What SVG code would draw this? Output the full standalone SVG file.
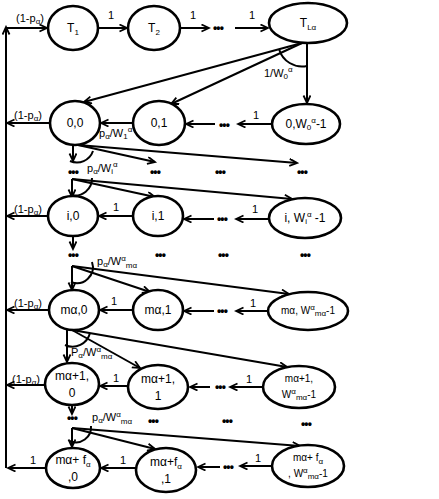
<svg xmlns="http://www.w3.org/2000/svg" width="439" height="499" viewBox="0 0 439 499">
<style>
.n ellipse{fill:#fff;stroke:#000;stroke-width:2.6}
.c line,.c path{stroke:#000;stroke-width:2;fill:none}
text{font-family:"Liberation Sans",Arial,sans-serif;font-size:12px;fill:#000;text-anchor:middle}
.l{font-size:11px}
.st{text-anchor:start}
.s{font-size:8px}
.d{font-size:12px;font-weight:bold;letter-spacing:-0.8px}
.sm{font-size:10px}
</style>
<defs>
<marker id="a" markerWidth="10" markerHeight="10" refX="8" refY="4" orient="auto" markerUnits="userSpaceOnUse">
<path d="M0.5,0.5 L8,4 L0.5,7.5" fill="none" stroke="#000" stroke-width="1.8"/>
</marker>
</defs>
<rect width="439" height="499" fill="#fff"/>
<g id="connectors" class="c">
<line x1="6" y1="468" x2="6" y2="27" marker-end="url(#a)"/>
<line x1="6" y1="28" x2="47" y2="28" marker-end="url(#a)"/>
<line x1="98" y1="28" x2="127" y2="28" marker-end="url(#a)"/>
<line x1="180" y1="28" x2="209" y2="28" marker-end="url(#a)"/>
<line x1="235" y1="28" x2="268" y2="28" marker-end="url(#a)"/>
<line x1="302" y1="43" x2="84" y2="102" marker-end="url(#a)"/>
<line x1="302" y1="43" x2="171" y2="104" marker-end="url(#a)"/>
<line x1="307" y1="44" x2="307" y2="103" marker-end="url(#a)"/>
<path d="M279,49 A24,24 0 0 0 307,66"/>
<line x1="272" y1="124" x2="238" y2="124" marker-end="url(#a)"/>
<line x1="215" y1="124" x2="186" y2="124" marker-end="url(#a)"/>
<line x1="133" y1="123" x2="101" y2="123" marker-end="url(#a)"/>
<line x1="50" y1="123" x2="7" y2="123" marker-end="url(#a)"/>
<line x1="73" y1="145" x2="73" y2="161" marker-end="url(#a)"/>
<line x1="78" y1="145" x2="155" y2="162" marker-end="url(#a)"/>
<line x1="78" y1="145" x2="297" y2="163" marker-end="url(#a)"/>
<path d="M70,161 A17,17 0 0 0 93,151"/>
<line x1="72" y1="179" x2="72" y2="197" marker-end="url(#a)"/>
<line x1="72" y1="179" x2="155" y2="197" marker-end="url(#a)"/>
<line x1="72" y1="179" x2="292" y2="199" marker-end="url(#a)"/>
<path d="M71,195 A17,17 0 0 0 92,178"/>
<line x1="269" y1="219" x2="236" y2="219" marker-end="url(#a)"/>
<line x1="214" y1="219" x2="184" y2="219" marker-end="url(#a)"/>
<line x1="133" y1="216" x2="99" y2="216" marker-end="url(#a)"/>
<line x1="48" y1="216" x2="7" y2="216" marker-end="url(#a)"/>
<line x1="73" y1="236" x2="73" y2="249" marker-end="url(#a)"/>
<line x1="72" y1="266" x2="72" y2="290" marker-end="url(#a)"/>
<line x1="72" y1="266" x2="150" y2="292" marker-end="url(#a)"/>
<line x1="72" y1="266" x2="289" y2="294" marker-end="url(#a)"/>
<path d="M71,282 A16,16 0 0 0 92,262"/>
<line x1="268" y1="311" x2="236" y2="311" marker-end="url(#a)"/>
<line x1="214" y1="311" x2="184" y2="311" marker-end="url(#a)"/>
<line x1="133" y1="310" x2="100" y2="310" marker-end="url(#a)"/>
<line x1="49" y1="310" x2="7" y2="310" marker-end="url(#a)"/>
<line x1="67" y1="330" x2="67" y2="362" marker-end="url(#a)"/>
<line x1="72" y1="330" x2="140" y2="368" marker-end="url(#a)"/>
<line x1="72" y1="330" x2="287" y2="367" marker-end="url(#a)"/>
<path d="M65,345 A18,18 0 0 0 90,333"/>
<line x1="263" y1="387" x2="230" y2="387" marker-end="url(#a)"/>
<line x1="210" y1="387" x2="190" y2="387" marker-end="url(#a)"/>
<line x1="128" y1="386" x2="100" y2="386" marker-end="url(#a)"/>
<line x1="45" y1="385" x2="7" y2="385" marker-end="url(#a)"/>
<line x1="72" y1="405" x2="72" y2="414" marker-end="url(#a)"/>
<line x1="72" y1="428" x2="72" y2="447" marker-end="url(#a)"/>
<line x1="72" y1="428" x2="155" y2="449" marker-end="url(#a)"/>
<line x1="72" y1="428" x2="300" y2="446" marker-end="url(#a)"/>
<path d="M70,441 A15,15 0 0 0 91,426"/>
<line x1="272" y1="466" x2="240" y2="466" marker-end="url(#a)"/>
<line x1="220" y1="467" x2="198" y2="467" marker-end="url(#a)"/>
<line x1="136" y1="468" x2="101" y2="468" marker-end="url(#a)"/>
<line x1="46" y1="468" x2="8" y2="468" marker-end="url(#a)"/>
</g>

<g id="labels">
<text class="l" x="30" y="22">(1-p<tspan class="s" dy="2">α</tspan><tspan dy="-2">)</tspan></text>
<text class="l" x="111" y="19">1</text>
<text class="l" x="193" y="19">1</text>
<text class="l" x="252" y="19">1</text>
<text class="l st" x="264" y="77">1/W<tspan class="s" dy="2">0</tspan><tspan class="s" dy="-7">α</tspan></text>
<text class="l" x="28" y="119">(1-p<tspan class="s" dy="2">α</tspan><tspan dy="-2">)</tspan></text>
<text class="l" x="256" y="119">1</text>
<text class="l st" x="99" y="137">p<tspan class="s" dy="2">α</tspan><tspan dy="-2">/W</tspan><tspan class="s" dy="2">1</tspan><tspan class="s" dy="-7">α</tspan></text>
<text class="l st" x="87" y="172">p<tspan class="s" dy="2">α</tspan><tspan dy="-2">/W</tspan><tspan class="s" dy="2">i</tspan><tspan class="s" dy="-7">α</tspan></text>
<text class="l" x="28" y="213">(1-p<tspan class="s" dy="2">α</tspan><tspan dy="-2">)</tspan></text>
<text class="l" x="116" y="211">1</text>
<text class="l" x="255" y="213">1</text>
<text class="l st" x="97" y="265">p<tspan class="s" dy="2">α</tspan><tspan dy="-2">/W</tspan><tspan class="s" dy="-4">α</tspan><tspan class="s" dy="7">mα</tspan></text>
<text class="l" x="28" y="307">(1-p<tspan class="s" dy="2">α</tspan><tspan dy="-2">)</tspan></text>
<text class="l" x="114" y="305">1</text>
<text class="l" x="253" y="307">1</text>
<text class="l st" x="71" y="356">P<tspan class="s" dy="2">α</tspan><tspan dy="-2">/W</tspan><tspan class="s" dy="-4">α</tspan><tspan class="s" dy="7">mα</tspan></text>
<text class="l" x="26" y="383">(1-p<tspan class="s" dy="2">α</tspan><tspan dy="-2">)</tspan></text>
<text class="l" x="116" y="382">1</text>
<text class="l" x="249" y="383">1</text>
<text class="l st" x="92" y="421">p<tspan class="s" dy="2">α</tspan><tspan dy="-2">/W</tspan><tspan class="s" dy="-4">α</tspan><tspan class="s" dy="7">mα</tspan></text>
<text class="l" x="33" y="464">1</text>
<text class="l" x="123" y="464">1</text>
<text class="l" x="258" y="462">1</text>
</g>

<g id="dots">
<text class="d" x="218" y="32">•••</text>
<text class="d" x="224" y="129">•••</text>
<text class="d" x="73" y="176">•••</text>
<text class="d" x="155" y="176">•••</text>
<text class="d" x="220" y="176">•••</text>
<text class="d" x="302" y="176">•••</text>
<text class="d" x="222" y="223">•••</text>
<text class="d" x="73" y="259">•••</text>
<text class="d" x="160" y="259">•••</text>
<text class="d" x="223" y="259">•••</text>
<text class="d" x="305" y="259">•••</text>
<text class="d" x="222" y="315">•••</text>
<text class="d" x="220" y="391">•••</text>
<text class="d" x="72" y="422">•••</text>
<text class="d" x="153" y="425">•••</text>
<text class="d" x="227" y="425">•••</text>
<text class="d" x="306" y="428">•••</text>
<text class="d" x="228" y="471">•••</text>
</g>

<g id="T1" class="n"><ellipse cx="73" cy="28" rx="25" ry="22"/><text x="73" y="32">T<tspan class="s" dy="3">1</tspan></text></g>
<g id="T2" class="n"><ellipse cx="154" cy="28" rx="26" ry="22"/><text x="154" y="32">T<tspan class="s" dy="3">2</tspan></text></g>
<g id="TLa" class="n"><ellipse cx="308" cy="23" rx="39" ry="20"/><text x="308" y="27">T<tspan class="s" dy="3">Lα</tspan></text></g>

<g id="n0_0" class="n"><ellipse cx="75" cy="123" rx="25" ry="22"/><text x="75" y="127">0,0</text></g>
<g id="n0_1" class="n"><ellipse cx="159" cy="123" rx="26" ry="22"/><text x="159" y="127">0,1</text></g>
<g id="n0_W" class="n"><ellipse cx="306" cy="124" rx="34" ry="20"/><text x="306" y="128">0,W<tspan class="s" dy="2">0</tspan><tspan class="s" dy="-7">α</tspan><tspan dy="5">-1</tspan></text></g>

<g id="ni_0" class="n"><ellipse cx="73" cy="216" rx="25" ry="20"/><text x="73" y="220">i,0</text></g>
<g id="ni_1" class="n"><ellipse cx="158" cy="216" rx="25" ry="20"/><text x="158" y="220">i,1</text></g>
<g id="ni_W" class="n"><ellipse cx="305" cy="218" rx="36" ry="20"/><text x="305" y="222">i,  W<tspan class="s" dy="2">i</tspan><tspan class="s" dy="-7">α</tspan><tspan dy="5"> -1</tspan></text></g>

<g id="nma_0" class="n"><ellipse cx="74" cy="310" rx="25" ry="20"/><text x="74" y="314">mα,0</text></g>
<g id="nma_1" class="n"><ellipse cx="158" cy="310" rx="25" ry="20"/><text x="158" y="314">mα,1</text></g>
<g id="nma_W" class="n"><ellipse cx="308" cy="311" rx="40" ry="19"/><text class="sm" x="308" y="314">mα, W<tspan class="s" dy="-4">α</tspan><tspan class="s" dy="6">mα</tspan><tspan dy="-2">-1</tspan></text></g>

<g id="nma1_0" class="n"><ellipse cx="72" cy="384" rx="27" ry="21"/><text x="72" y="380">mα+1,</text><text x="72" y="397">0</text></g>
<g id="nma1_1" class="n"><ellipse cx="158" cy="387" rx="30" ry="22"/><text x="158" y="383">mα+1,</text><text x="158" y="400">1</text></g>
<g id="nma1_W" class="n"><ellipse cx="299" cy="387" rx="36" ry="21"/><text class="sm" x="299" y="382">mα+1,</text><text class="sm" x="299" y="398">W<tspan class="s" dy="-4">α</tspan><tspan class="s" dy="6">mα</tspan><tspan dy="-2">-1</tspan></text></g>

<g id="nmaf_0" class="n"><ellipse cx="73" cy="468" rx="27" ry="20"/><text x="73" y="464">mα+ f<tspan class="s" dy="3">α</tspan></text><text x="73" y="481">,0</text></g>
<g id="nmaf_1" class="n"><ellipse cx="166" cy="470" rx="30" ry="22"/><text x="166" y="466">mα+f<tspan class="s" dy="3">α</tspan></text><text x="166" y="483">,1</text></g>
<g id="nmaf_W" class="n"><ellipse cx="308" cy="466" rx="36" ry="21"/><text class="sm" x="308" y="461">mα+ f<tspan class="s" dy="3">α</tspan></text><text class="sm" x="308" y="477">, W<tspan class="s" dy="-4">α</tspan><tspan class="s" dy="6">mα</tspan><tspan dy="-2">-1</tspan></text></g>
</svg>
